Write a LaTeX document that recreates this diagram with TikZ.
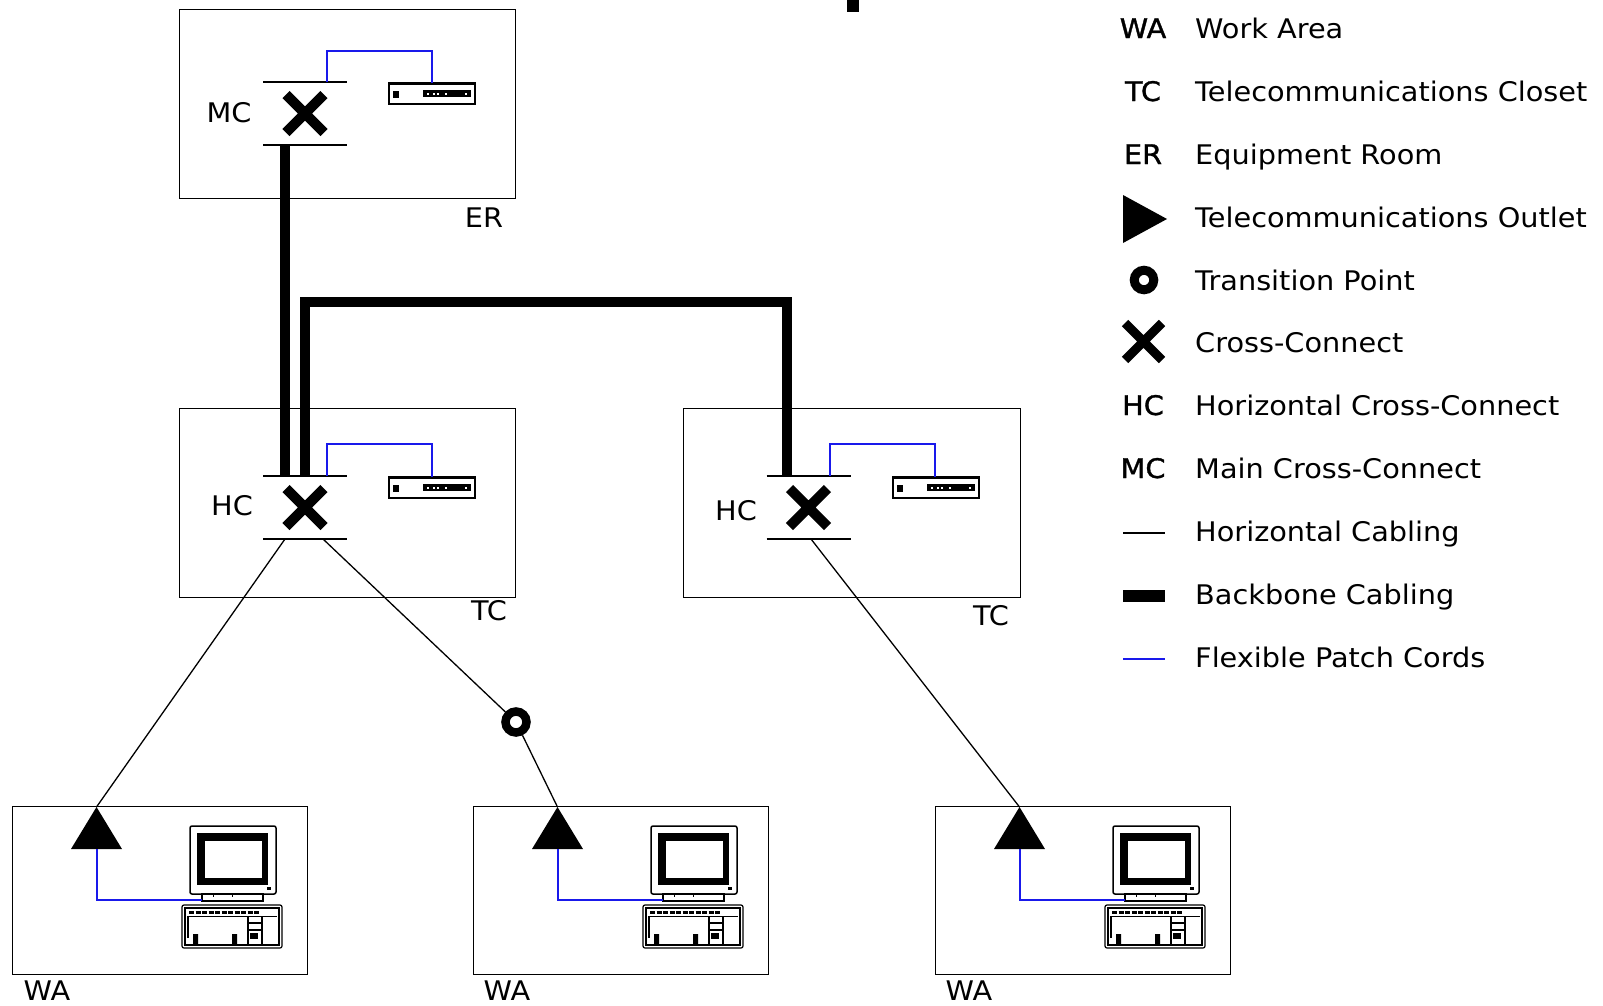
\documentclass[tikz,border=0pt]{standalone}
\usepackage{fontspec}
\setmainfont[FakeStretch=1.065]{DejaVu Sans}
\newfontfamily\keyfont[FakeStretch=1.065,FakeBold=1.2]{DejaVu Sans}
\definecolor{cordblue}{RGB}{25,25,235}
\tikzset{
  room/.style={draw, line width=1.3pt, rectangle, inner sep=0pt, anchor=north west,
               minimum width=#1},
  room/.default=336pt,
  lbl/.style={font=\fontsize{27}{32}\selectfont, inner sep=0pt, anchor=base},
  keylbl/.style={font=\keyfont\fontsize{27}{32}\selectfont, inner sep=0pt, anchor=base},
  legtxt/.style={font=\fontsize{27}{32}\selectfont, inner sep=0pt, anchor=base west},
  backbone/.style={line width=10pt, line join=miter},
  horiz/.style={line width=1.3pt},
  patch/.style={line width=2pt, draw=cordblue},
  bar/.style={line width=1.5pt},
  % cross-connect with its two termination bars
  pics/xconn/.style={code={
    \draw[line width=10pt] (-19,-19) -- (19,19) (-19,19) -- (19,-19);
    \draw[bar] (-42,-31.5) -- (42,-31.5) (-42,31.5) -- (42,31.5);
  }},
  % rack-mounted patch panel
  pics/panel/.style={code={
    \draw[line width=1.5pt] (0,0) rectangle (86,21);
    \draw[line width=1pt] (0,1.8) -- (86,1.8);
    \fill (4,8) rectangle (10,15);
    \fill (34,7) rectangle (82,14);
    \foreach \d in {38,44,48,56,76}{\fill[white] (\d,9.5) rectangle (\d+2,11.5);}
  }},
  % workstation: monitor on its stand and a keyboard
  pics/computer/.style={code={
    \draw[line width=1.5pt, rounded corners=2pt] (0,0) rectangle (86,68);
    \fill (7,7) rectangle (78,59);
    \fill[white] (15,15) rectangle (72,52);
    \fill (77,61) rectangle (81,64);
    \draw[line width=1.5pt] (12,68) rectangle (73,75);
    \draw[line width=1pt] (23,68) -- (23,71) (42,68) -- (42,71);
    \draw[line width=1.2pt, rounded corners=2pt] (-8,79) rectangle (92,122);
    \draw[line width=1.8pt] (-5,82) rectangle (89,119);
    \draw[line width=1pt] (-3,90) -- (87,90);
    \draw[line width=2.5pt, dash pattern=on 5pt off 1.5pt] (-1,86.5) -- (70,86.5);
    \draw[line width=1.2pt] (58,90) -- (58,119) (72,90) -- (72,119);
    \draw[line width=1.2pt] (58,97) -- (72,97) (58,104) -- (72,104);
    \draw[line width=2pt] (-2,90) -- (-2,112);
    \fill (3,108) rectangle (8,119) (42,108) rectangle (47,119);
    \fill (60,107) rectangle (68,113);
  }},
  % telecommunications outlet
  pics/outlet/.style={code={
    \fill (0,0) -- (25.5,42) -- (-25.5,42) -- cycle;
  }},
}
\begin{document}
\begin{tikzpicture}[x=1pt,y=-1pt]
\useasboundingbox (0,0) rectangle (1603,1005);
\fill[white] (0,0) rectangle (1603,1005);
\fill (847,0) rectangle (859,12);

% ---------- rooms ----------
\node[room, minimum height=189pt] (er) at (179,9) {};
\node[room, minimum height=189pt] (tc1) at (179,408) {};
\node[room=337pt, minimum height=189pt] (tc2) at (683,408) {};
\node[room=295pt, minimum height=168pt] (wa1) at (12,806) {};
\node[room=295pt, minimum height=168pt] (wa2) at (473,806) {};
\node[room=295pt, minimum height=168pt] (wa3) at (935,806) {};

\node[lbl] (erl) at (484,227) {ER};
\node[lbl] (tc1l) at (489,620) {TC};
\node[lbl] (tc2l) at (991,625) {TC};
\node[lbl] (wa1l) at (47,1000) {WA};
\node[lbl] (wa2l) at (507,1000) {WA};
\node[lbl] (wa3l) at (969,1000) {WA};

% ---------- cross-connects ----------
\pic at (305,113.5) {xconn};
\pic at (305,507.5) {xconn};
\pic at (808.5,507.5) {xconn};
\node[lbl] (mcl) at (229,122) {MC};
\node[lbl] (hc1l) at (232,515) {HC};
\node[lbl] (hc2l) at (736,520) {HC};

\coordinate (mcB) at (285,145);
\coordinate (hc1T) at (285,476);
\coordinate (hc1Tb) at (305,476);
\coordinate (hc2T) at (787,476);
\coordinate (bbL) at (305,302);
\coordinate (bbR) at (787,302);

% ---------- backbone cabling ----------
\draw[backbone] (mcB) -- (hc1T);
\draw[backbone] (hc1Tb) -- (bbL) -- (bbR) -- (hc2T);

% ---------- patch panels and patch cords ----------
\pic at (389,83) {panel};
\pic at (389,477) {panel};
\pic at (893,477) {panel};
\draw[patch] (327,82) -- (327,51) -- (432,51) -- (432,83);
\draw[patch] (327,476) -- (327,444) -- (432,444) -- (432,477);
\draw[patch] (830,476) -- (830,444) -- (935,444) -- (935,477);

% ---------- work areas ----------
\coordinate (o1) at (96.5,807);
\coordinate (o2) at (557.5,807);
\coordinate (o3) at (1019.5,807);
\pic at (o1) {outlet};
\pic at (o2) {outlet};
\pic at (o3) {outlet};
\pic at (190,826) {computer};
\pic at (651,826) {computer};
\pic at (1113,826) {computer};
\draw[patch] (96.5,849) -- (96.5,900) -- (202,900);
\draw[patch] (557.5,849) -- (557.5,900) -- (663,900);
\draw[patch] (1019.5,849) -- (1019.5,900) -- (1125,900);

% ---------- horizontal cabling ----------
\coordinate (hc1a) at (285,539);
\coordinate (hc1b) at (323,539);
\coordinate (hc2a) at (811,539);
\node[circle, draw, line width=8.5pt, minimum size=21pt, inner sep=0pt] (tp) at (516,722) {};
\draw[horiz] (hc1a) -- (o1);
\draw[horiz] (hc1b) -- (tp);
\draw[horiz] (tp) -- (o2);
\draw[horiz] (hc2a) -- (o3);

% ---------- legend ----------
\node[keylbl] (kWA) at (1143,38) {WA};
\node[legtxt] (tWA) at (1195,38) {Work Area};
\node[keylbl] (kTC) at (1143,101) {TC};
\node[legtxt] (tTC) at (1195,101) {Telecommunications Closet};
\node[keylbl] (kER) at (1143,164) {ER};
\node[legtxt] (tER) at (1195,164) {Equipment Room};
\fill (1123,195) -- (1167,219) -- (1123,243) -- cycle;
\node[legtxt] (tTO) at (1195,227) {Telecommunications Outlet};
\node[circle, draw, line width=9pt, minimum size=19.5pt, inner sep=0pt] (kTP) at (1144,280) {};
\node[legtxt] (tTP) at (1195,290) {Transition Point};
\draw[line width=9pt] (1125,323) -- (1162,360) (1125,360) -- (1162,323);
\node[legtxt] (tCC) at (1195,352) {Cross-Connect};
\node[keylbl] (kHC) at (1143,415) {HC};
\node[legtxt] (tHC) at (1195,415) {Horizontal Cross-Connect};
\node[keylbl] (kMC) at (1143,478) {MC};
\node[legtxt] (tMC) at (1195,478) {Main Cross-Connect};
\draw[horiz] (1123,533) -- (1165,533);
\node[legtxt] (tHz) at (1195,541) {Horizontal Cabling};
\draw[line width=12pt] (1123,596) -- (1165,596);
\node[legtxt] (tBB) at (1195,604) {Backbone Cabling};
\draw[patch, line width=1.5pt] (1123,659) -- (1165,659);
\node[legtxt] (tFP) at (1195,667) {Flexible Patch Cords};
\end{tikzpicture}
\end{document}
